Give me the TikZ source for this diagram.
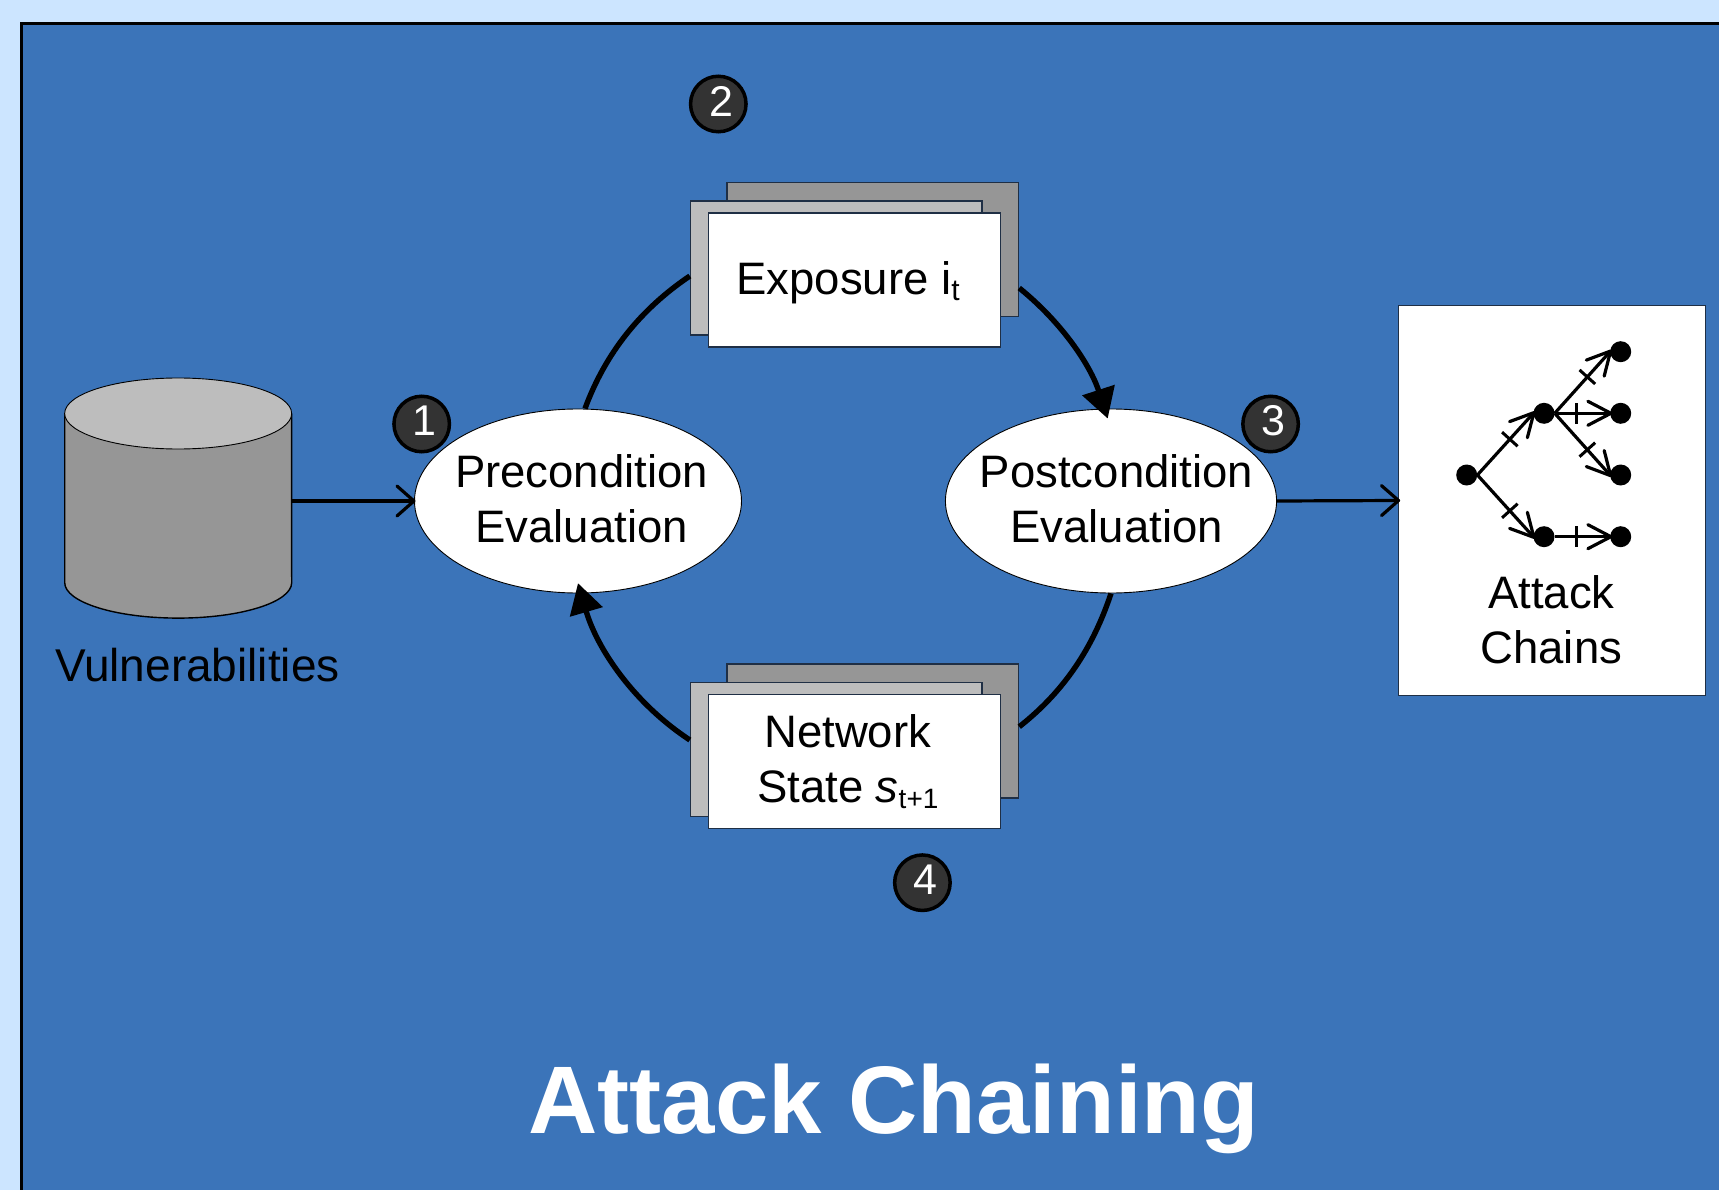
\documentclass[tikz,border=0pt]{standalone}
\usepackage{fontspec}
\setmainfont{Liberation Sans}
\usetikzlibrary{arrows.meta,shapes.geometric}
\definecolor{pagebg}{HTML}{CCE5FF}
\definecolor{slideblue}{HTML}{3B74B9}
\definecolor{greyback}{HTML}{969696}
\definecolor{greymid}{HTML}{BDBDBD}
\definecolor{badgefill}{HTML}{333333}
\definecolor{boxline}{HTML}{1F2F45}
\newcommand{\subtxt}[1]{\raisebox{-6pt}{\fontsize{28}{28}\selectfont #1}}
\newcommand{\subtxtb}[1]{\raisebox{-6pt}{\fontsize{30}{30}\selectfont #1}}
\tikzset{
  textfont/.style={font=\fontsize{45.5}{55}\selectfont, text=black},
  paper/.style={rectangle, draw=boxline, line width=1.4pt, minimum width=291.5pt, minimum height=134pt, inner sep=0pt},
  evalnode/.style={ellipse, draw=black, line width=0.9pt, fill=white, minimum width=327pt, minimum height=184pt, inner xsep=-25pt, inner ysep=0pt, textfont, align=center},
  badge/.style={circle, draw=black, line width=3.5pt, fill=badgefill, minimum size=55.5pt, inner sep=0pt},
  badgetext/.style={font=\fontsize{43}{43}\selectfont, text=white, inner sep=0pt},
  cyc/.style={line width=5.4pt, draw=black},
  cycarrow/.style={cyc, -{Triangle[length=30pt,width=33pt]}},
  flow/.style={line width=3.2pt, draw=black, shorten >=-1.5pt, -{Straight Barb[length=17pt,width=30pt,line width=3.2pt,round]}},
  dot/.style={circle, fill=black, minimum size=21pt, inner sep=0pt},
  chain/.style={line width=3.2pt, draw=black, shorten >=-2.5pt, -{Straight Barb[length=23pt,width=24pt,line width=3.2pt,round]}},
  tickmark/.style={sloped, fill=black, minimum width=3pt, minimum height=21pt, inner sep=0pt},
}
\begin{document}
\begin{tikzpicture}[x=1pt,y=-1pt]
\useasboundingbox (0,0) rectangle (1719,1190);
\fill[pagebg] (0,0) rectangle (1719,1190);
\fill[slideblue] (21.2,23.7) rectangle (1719,1190);
\draw[black,line width=2.6pt] (21.2,1190) -- (21.2,23.7) -- (1719,23.7);

% cylinder
\fill[greyback] (64.7,413.5) -- (64.7,582.6) arc[start angle=180,end angle=360,x radius=113.5,y radius=-35.5] -- (291.6,413.5) -- cycle;
\draw[black,line width=1.4pt] (64.7,413.5) -- (64.7,582.6) arc[start angle=180,end angle=360,x radius=113.5,y radius=-35.5] -- (291.6,413.5);
\draw[black,line width=0.9pt,fill=greymid] (178.15,413.5) ellipse[x radius=113.5,y radius=35.5];
\node[minimum width=227pt,minimum height=240pt,inner sep=0pt] (vuln) at (178.15,498) {};
\node[font=\fontsize{46}{55}\selectfont,text=black,anchor=base,inner sep=0pt] (vulnlabel) at (197.5,681.8) {Vulnerabilities};

% exposure stack
\node[paper,fill=greyback] (expback) at (872.8,249.7) {};
\node[paper,fill=greymid] (expmid) at (836.3,268) {};
\node[paper,fill=white,textfont,text height=40pt,text depth=11.4pt] (expfront) at (854.5,280) {Exposure i\subtxtb{t}\hspace*{13pt}};

% network state stack
\node[paper,fill=greyback] (netback) at (872.8,731) {};
\node[paper,fill=greymid] (netmid) at (836.3,749.7) {};
\node[paper,fill=white,textfont,align=center] (netfront) at (854.5,761.7) {Network\hspace*{13.5pt}\\State \textit{s}\subtxt{t+1}\hspace*{13.5pt}};

% evaluation ellipses
\node[evalnode] (pre) at (578,501) {\hspace*{7pt}Precondition\\\hspace*{7pt}Evaluation\rule[-4.4pt]{0pt}{0pt}};
\node[evalnode] (post) at (1111,501) {\hspace*{11pt}Postcondition\\\hspace*{11pt}Evaluation\rule[-4.4pt]{0pt}{0pt}};

% cycle
\draw[cyc] ([xshift=7pt]pre.north) to[out=69.7,in=214,looseness=0.9] ([yshift=-8pt]expmid.west);
\draw[cycarrow] ([yshift=-38.3pt]expback.east) to[out=-39,in=108,looseness=0.9] ([xshift=-3.3pt,yshift=-10pt]post.north);
\draw[cyc] (post.south) to[out=-108.3,in=38.1,looseness=0.9] ([yshift=4.3pt]netback.east);
\draw[cycarrow] ([yshift=9.7pt]netmid.west) to[out=146.7,in=-73.8,looseness=0.9] ([yshift=10.3pt]pre.south);

% attack chains box
\node[rectangle,draw=boxline,line width=1.4pt,fill=white,minimum width=307pt,minimum height=389.6pt,inner sep=0pt] (chainsbox) at (1551.8,500.5) {};
\node[textfont,align=center,inner sep=0pt] (chainslabel) at (1551.3,619.8) {Attack\\Chains};
\node[dot] (root) at (1466.7,475) {};
\node[dot] (m1) at (1544,413.3) {};
\node[dot] (m2) at (1544,536.7) {};
\node[dot] (l1) at (1620.7,351.7) {};
\node[dot] (l2) at (1620.7,413.3) {};
\node[dot] (l3) at (1620.7,475) {};
\node[dot] (l4) at (1620.7,536.7) {};
\draw[chain] (root.east) -- node[tickmark,pos=.58]{} (m1.west);
\draw[chain] (root.east) -- node[tickmark,pos=.58]{} (m2.west);
\draw[chain] (m1.east) -- node[tickmark,pos=.59]{} (l1.west);
\draw[chain] (m1.east) -- node[tickmark,pos=.4]{} (l2.west);
\draw[chain] (m1.east) -- node[tickmark,pos=.59]{} (l3.west);
\draw[chain] (m2.east) -- node[tickmark,pos=.4]{} (l4.west);

% flow arrows
\draw[flow] ([yshift=-3pt]vuln.east) -- (pre.west);
\draw[flow] (post.east) -- ([xshift=1pt]chainsbox.west);

% badges
\node[badge] (b1) at (421.7,424) {};
\node[badgetext] (b1t) at (424,421) {1};
\node[badge] (b2) at (718.3,104) {};
\node[badgetext] (b2t) at (721,101) {2};
\node[badge] (b3) at (1270.6,424) {};
\node[badgetext] (b3t) at (1273,421) {3};
\node[badge] (b4) at (922.4,882.7) {};
\node[badgetext] (b4t) at (925,880) {4};

% title
\node[font=\fontsize{96}{96}\selectfont\bfseries,text=white,anchor=base,inner sep=0pt] (title) at (894,1133.6) {Attack Chaining};
\end{tikzpicture}
\end{document}
